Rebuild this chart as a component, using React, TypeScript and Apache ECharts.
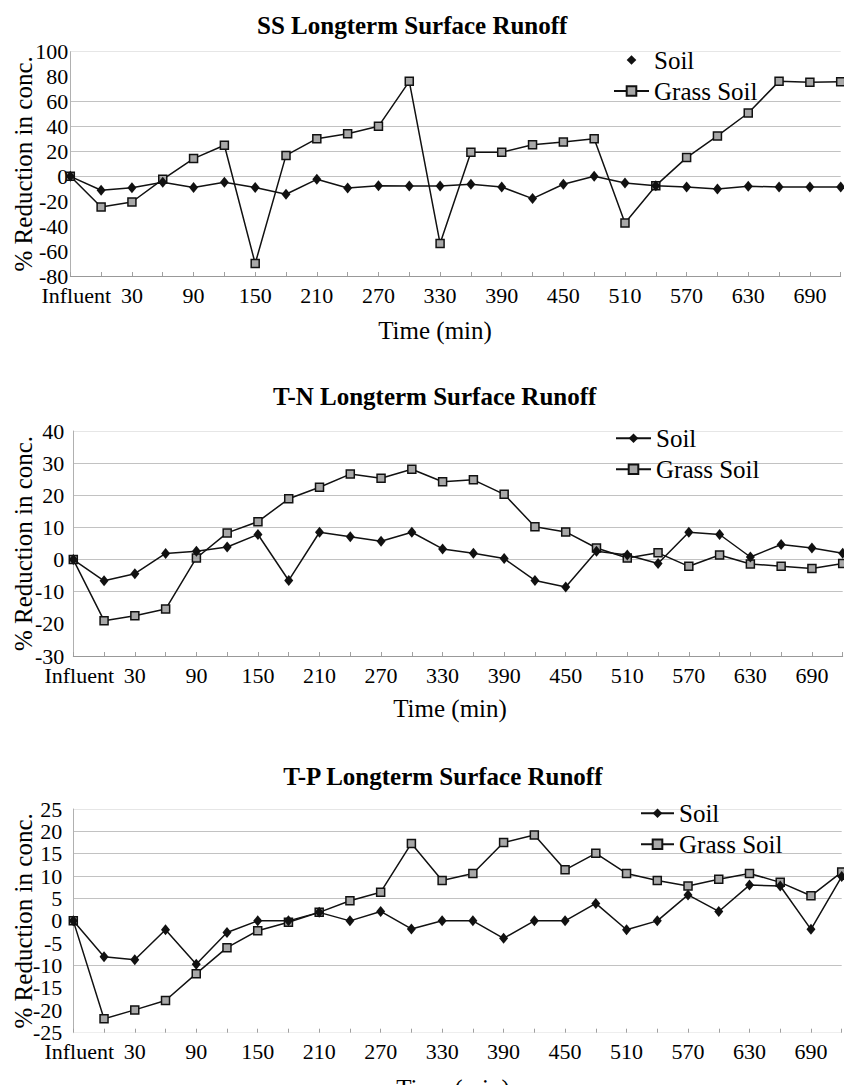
import React, { useEffect, useRef } from "react";
import * as echarts from "echarts";

const categories = [
  "Influent", "0", "30", "60", "90", "120", "150", "180", "210", "240", "270", "300", "330",
  "360", "390", "420", "450", "480", "510", "540", "570", "600", "630", "660", "690", "720",
];

const ssSoil = [0, -11.2, -9.1, -4.8, -9, -4.8, -9, -14.4, -2.4, -9.4, -7.5, -7.8, -7.8, -6.4, -8.6, -17.9, -6.4, 0, -5.3, -7.5, -8.6, -10.2, -8, -8.6, -8.6, -8.6];
const ssGrass = [0, -24.6, -20.6, -2.4, 14.2, 24.9, -70, 16.8, 30.2, 34.2, 40.1, 76.2, -54, 19.3, 19.3, 25.4, 27.5, 30.2, -37.4, -7.5, 15, 32.4, 50.8, 76.2, 75.4, 75.9];
const tnSoil = [0, -6.6, -4.4, 1.9, 2.6, 3.9, 7.8, -6.5, 8.5, 7.1, 5.7, 8.5, 3.3, 2.0, 0.3, -6.5, -8.5, 2.6, 1.4, -1.25, 8.5, 7.8, 0.8, 4.7, 3.6, 2.0];
const tnGrass = [0, -19, -17.5, -15.4, 0.5, 8.3, 11.8, 18.9, 22.5, 26.6, 25.3, 28.1, 24.2, 24.8, 20.3, 10.2, 8.6, 3.6, 0.5, 2.1, -2.1, 1.4, -1.35, -2.1, -2.8, -1.25];
const tpSoil = [0, -8, -8.7, -2, -9.7, -2.6, 0, 0, 1.9, 0, 2.1, -1.8, 0, 0, -3.9, 0, 0, 3.9, -2, 0, 5.8, 2.1, 8.0, 7.8, -1.9, 9.9];
const tpGrass = [0, -21.9, -19.9, -17.8, -11.8, -6, -2.2, -0.3, 1.9, 4.5, 6.4, 17.3, 9, 10.6, 17.5, 19.2, 11.4, 15.1, 10.6, 9, 7.8, 9.3, 10.6, 8.6, 5.6, 10.9];

const titles = ["SS Longterm Surface Runoff", "T-N Longterm Surface Runoff", "T-P Longterm Surface Runoff"];
const seriesNames = ["Soil", "Grass Soil"];
const xAxisName = "Time (min)";
const yAxisName = "% Reduction in conc.";
const yMins = [-80, -30, -25];
const yMaxs = [100, 40, 25];
const yIntervals = [20, 10, 5];

const FONT = "Liberation Serif";
const G = "#c2c2c2";
const T = "rgba(0,0,0,0)";
const F = "#e6e6e6";

const splitColors = [
  [T, T, T, T, G, G, G, G, T, F],
  [T, T, G, G, G, G, G, F],
  [T, T, T, G, T, T, G, G, G, G, F],
];

const layouts = [
  { titleLeft: 257, titleTop: 12.5, gridLeft: 70.3, gridTop: 51.7, gridRight: 3.3, gridBottom: 809, labelMargin: 2, yNameGap: 34.5, xNameGap: 41.5, xNameShift: 41, legendLeft: 613, legendTop: 47.5, legendItemWidth: 35, xLine: "#999", soilLine: false },
  { titleLeft: 273, titleTop: 384.2, gridLeft: 73.3, gridTop: 431, gridRight: 1.3, gridBottom: 429, labelMargin: 9, yNameGap: 37.5, xNameGap: 39.5, xNameShift: 16, legendLeft: 615, legendTop: 425.8, legendItemWidth: 35, xLine: "#999", soilLine: true },
  { titleLeft: 283.3, titleTop: 764.2, gridLeft: 73.3, gridTop: 809, gridRight: 2.3, gridBottom: 52.3, labelMargin: 11, yNameGap: 37.5, xNameGap: 43.5, xNameShift: 9, legendLeft: 640, legendTop: 800.8, legendItemWidth: 33, xLine: "#eeeeee", soilLine: true },
];

const soilData = [ssSoil, tnSoil, tpSoil];
const grassData = [ssGrass, tnGrass, tpGrass];

export default function App() {
  const ref = useRef<HTMLDivElement>(null);

  useEffect(() => {
    if (!ref.current) return;
    const chart = echarts.init(ref.current, null, { renderer: "svg" });

    const option: any = {
      animation: false,
      backgroundColor: "#ffffff",
      textStyle: { fontFamily: FONT },
      title: layouts.map((l, i) => ({
        text: titles[i],
        left: l.titleLeft,
        top: l.titleTop,
        padding: 0,
        textStyle: { fontFamily: FONT, fontSize: 25, fontWeight: "bold", color: "#000", lineHeight: 25 },
      })),
      legend: layouts.map((l, i) => ({
        orient: "vertical",
        left: l.legendLeft,
        top: l.legendTop,
        padding: 0,
        itemWidth: l.legendItemWidth,
        itemHeight: 12,
        itemGap: 6,
        selectedMode: false,
        textStyle: { fontFamily: FONT, fontSize: 25, color: "#000", lineHeight: 25 },
        data: [
          l.soilLine ? { name: seriesNames[0] } : { name: seriesNames[0], lineStyle: { opacity: 0 } },
          { name: seriesNames[1] },
        ],
      })),
      grid: layouts.map((l) => ({
        left: l.gridLeft,
        top: l.gridTop,
        right: l.gridRight,
        bottom: l.gridBottom,
        containLabel: false,
        outerBoundsMode: "none",
      })),
      xAxis: layouts.map((l, i) => ({
        type: "category",
        gridIndex: i,
        data: categories,
        boundaryGap: false,
        axisLine: { show: true, onZero: false, lineStyle: { color: l.xLine, width: 1 } },
        axisTick: { show: true, inside: true, length: 4, interval: 0, lineStyle: { color: "#a0a0a0" } },
        axisLabel: {
          interval: (idx: number) => idx % 2 === 0 && idx < categories.length - 1,
          formatter: (value: string, idx: number) => (idx === 0 ? "{first|" + value + "}" : value),
          rich: { first: { fontFamily: FONT, fontSize: 22, color: "#000", padding: [0, 0, 0, 12] } },
          margin: 8,
          fontFamily: FONT,
          fontSize: 22,
          color: "#000",
        },
        splitLine: { show: false },
        name: xAxisName,
        nameLocation: "middle",
        nameGap: l.xNameGap,
        nameMoveOverlap: false,
        nameTextStyle: { fontFamily: FONT, fontSize: 25, color: "#000", lineHeight: 25, padding: [0, l.xNameShift, 0, 0] },
      })),
      yAxis: layouts.map((l, i) => ({
        type: "value",
        gridIndex: i,
        min: yMins[i],
        max: yMaxs[i],
        interval: yIntervals[i],
        axisLine: { show: true, lineStyle: { color: "#b0b0b0", width: 1 } },
        axisTick: { show: false },
        axisLabel: { margin: l.labelMargin, fontFamily: FONT, fontSize: 22, color: "#000" },
        splitLine: { show: true, lineStyle: { color: splitColors[i], width: 1 } },
        name: yAxisName,
        nameLocation: "middle",
        nameGap: l.yNameGap,
        nameMoveOverlap: false,
        nameTextStyle: { fontFamily: FONT, fontSize: 25, color: "#000", lineHeight: 25 },
      })),
      series: layouts.flatMap((l, i) => [
        {
          type: "line",
          name: seriesNames[0],
          xAxisIndex: i,
          yAxisIndex: i,
          data: soilData[i],
          symbol: "diamond",
          symbolSize: [9, 11],
          showAllSymbol: true,
          lineStyle: { color: "#111", width: 1.5 },
          itemStyle: { color: "#111" },
          emphasis: { disabled: true },
          z: 3,
        },
        {
          type: "line",
          name: seriesNames[1],
          xAxisIndex: i,
          yAxisIndex: i,
          data: grassData[i],
          symbol: "rect",
          symbolSize: 8,
          showAllSymbol: true,
          lineStyle: { color: "#111", width: 1.5 },
          itemStyle: { color: "#a8a8a8", borderColor: "#111", borderWidth: 1.5 },
          emphasis: { disabled: true },
          z: 2,
        },
      ]),
    };

    chart.setOption(option);
    return () => chart.dispose();
  }, []);

  return (
    <div
      ref={ref}
      style={{ position: "absolute", left: 0, top: 0, width: 844, height: 1085 }}
    />
  );
}
